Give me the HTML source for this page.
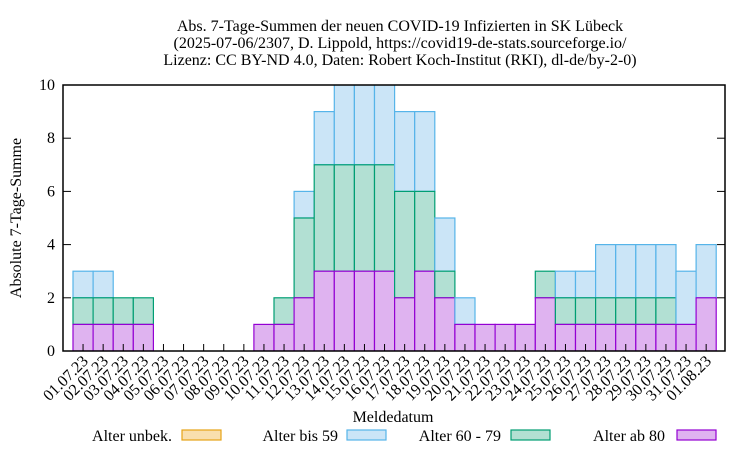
<!DOCTYPE html>
<html><head><meta charset="utf-8"><style>body{margin:0;background:#fff}svg{display:block}text{font-family:"Liberation Serif",serif;font-size:16px;fill:#000}</style></head>
<body>
<svg id="s" width="750" height="450" xmlns="http://www.w3.org/2000/svg">
<text x="400" y="31" text-anchor="middle">Abs. 7-Tage-Summen der neuen COVID-19 Infizierten in SK Lübeck</text>
<text x="400" y="48" text-anchor="middle">(2025-07-06/2307, D. Lippold, https://covid19-de-stats.sourceforge.io/</text>
<text x="400" y="65" text-anchor="middle">Lizenz: CC BY-ND 4.0, Daten: Robert Koch-Institut (RKI), dl-de/by-2-0)</text>
<g id="bars"></g>
<rect x="63" y="85" width="662" height="266" fill="none" stroke="#000" stroke-width="1.5"/>
<text transform="translate(21,218) rotate(-90)" text-anchor="middle">Absolute 7-Tage-Summe</text>
<text x="393" y="422" text-anchor="middle">Meldedatum</text>
<text x="172" y="441" text-anchor="end">Alter unbek.</text>
<rect x="182" y="430" width="39" height="10" fill="#f9dfae" stroke="#e6a317" stroke-width="1.2"/>
<text x="338" y="441" text-anchor="end">Alter bis 59</text>
<rect x="347" y="430" width="39" height="10" fill="#cbe5f7" stroke="#56b4e9" stroke-width="1.2"/>
<text x="501" y="441" text-anchor="end">Alter 60 - 79</text>
<rect x="511" y="430" width="39" height="10" fill="#b2e0d3" stroke="#009e73" stroke-width="1.2"/>
<text x="665" y="441" text-anchor="end">Alter ab 80</text>
<rect x="677" y="430" width="39" height="10" fill="#dfb3f0" stroke="#9400d3" stroke-width="1.2"/>
</svg>
<script>
var ns="http://www.w3.org/2000/svg",g=document.getElementById('bars'),s=document.getElementById('s');
var d=[[1,2,3],[1,2,3],[1,2,2],[1,2,2],[0,0,0],[0,0,0],[0,0,0],[0,0,0],[0,0,0],[1,1,1],[1,2,2],[2,5,6],[3,7,9],[3,7,11],[3,7,11],[3,7,11],[2,6,9],[3,6,9],[2,3,5],[1,1,2],[1,1,1],[1,1,1],[1,1,1],[2,3,3],[1,2,3],[1,2,3],[1,2,4],[1,2,4],[1,2,4],[1,2,4],[1,1,3],[2,2,4]];
var W=20.1;
function Y(v){return 351-Math.min(v,10.05)*26.6;}
function r(x,y0,y1,f,st){if(y1<=y0)return;var e=document.createElementNS(ns,'rect');e.setAttribute('x',x);e.setAttribute('y',Y(y1));e.setAttribute('width',W);e.setAttribute('height',Y(y0)-Y(y1));e.setAttribute('fill',f);e.setAttribute('stroke',st);e.setAttribute('stroke-width',1.2);g.appendChild(e);}
var cp=document.createElementNS(ns,'clipPath');cp.id='c';var cr=document.createElementNS(ns,'rect');cr.setAttribute('x',63);cr.setAttribute('y',85);cr.setAttribute('width',662);cr.setAttribute('height',266);cp.appendChild(cr);s.appendChild(cp);g.setAttribute('clip-path','url(#c)');
d.forEach(function(b,i){var x=73+W*i;r(x,b[1],b[2],'#cbe5f7','#56b4e9');r(x,b[0],b[1],'#b2e0d3','#009e73');r(x,0,b[0],'#dfb3f0','#9400d3');
var t=document.createElementNS(ns,'line');t.setAttribute('x1',x+W/2);t.setAttribute('x2',x+W/2);t.setAttribute('y1',351);t.setAttribute('y2',344);t.setAttribute('stroke','#000');s.appendChild(t);
var tx=document.createElementNS(ns,'text');var day=i<31?('0'+(i+1)).slice(-2)+'.07.23':'01.08.23';tx.textContent=day;tx.setAttribute('text-anchor','end');tx.setAttribute('transform','translate('+(x+16)+',362) rotate(-45)');s.appendChild(tx);});
for(var v=0;v<=10;v+=2){var y=351-v*26.6;var tx=document.createElementNS(ns,'text');tx.textContent=v;tx.setAttribute('x',55);tx.setAttribute('y',y+5);tx.setAttribute('text-anchor','end');s.appendChild(tx);
['63','725'].forEach(function(xx,k){var l=document.createElementNS(ns,'line');l.setAttribute('x1',xx);l.setAttribute('x2',k?717:71);l.setAttribute('y1',y);l.setAttribute('y2',y);l.setAttribute('stroke','#000');s.appendChild(l);});}
</script>
</body></html>
